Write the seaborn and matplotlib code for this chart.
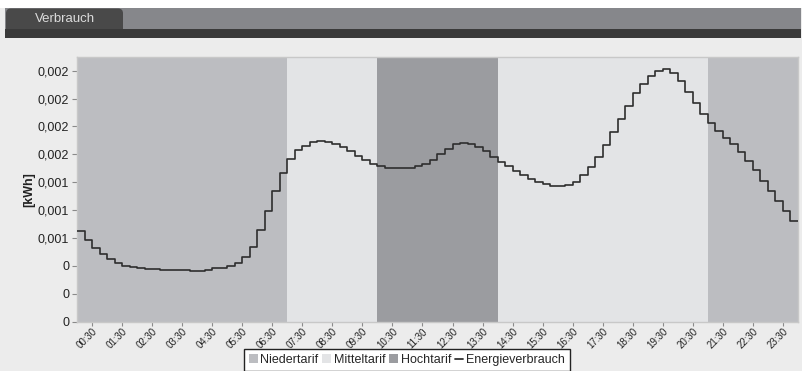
import numpy as np
import pandas as pd
import matplotlib
matplotlib.use('Agg')
import matplotlib.pyplot as plt
from matplotlib.patches import Rectangle, FancyBboxPatch, Patch
from matplotlib.lines import Line2D
from matplotlib.ticker import FuncFormatter
from decimal import Decimal, ROUND_HALF_EVEN
import seaborn as sns

# quarter-hour consumption in kWh (96 values, 00:00 .. 23:45)
verbrauch = [
    0.000813, 0.000731, 0.000658, 0.000604, 0.000560, 0.000522, 0.000499, 0.000488,
    0.000480, 0.000472, 0.000472, 0.000466, 0.000463, 0.000463, 0.000459, 0.000457,
    0.000457, 0.000463, 0.000477, 0.000481, 0.000497, 0.000523, 0.000577, 0.000667,
    0.000822, 0.000995, 0.001172, 0.001330, 0.001456, 0.001539, 0.001579, 0.001609,
    0.001617, 0.001609, 0.001591, 0.001563, 0.001530, 0.001488, 0.001448, 0.001418,
    0.001398, 0.001382, 0.001382, 0.001382, 0.001382, 0.001396, 0.001418, 0.001447,
    0.001501, 0.001545, 0.001590, 0.001606, 0.001595, 0.001569, 0.001527, 0.001479,
    0.001434, 0.001393, 0.001353, 0.001311, 0.001277, 0.001252, 0.001236, 0.001219,
    0.001218, 0.001225, 0.001255, 0.001311, 0.001384, 0.001472, 0.001581, 0.001700,
    0.001817, 0.001934, 0.002047, 0.002133, 0.002205, 0.002250, 0.002263, 0.002227,
    0.002159, 0.002059, 0.001963, 0.001865, 0.001784, 0.001711, 0.001651, 0.001590,
    0.001517, 0.001438, 0.001357, 0.001264, 0.001173, 0.001084, 0.000992, 0.000903,
]

# tariff periods (hours)
tarif_start = [0, 7, 10, 14, 21]
tarif_end = [7, 10, 14, 21, 24]
tarif_name = ['Niedertarif', 'Mitteltarif', 'Hochtarif', 'Mitteltarif', 'Niedertarif']
tarif_colors = {'Niedertarif': '#bcbdc1', 'Mitteltarif': '#e3e4e6', 'Hochtarif': '#9b9ca0'}

xtick_labels = [f'{h:02d}:30' for h in range(24)]
ytick_values = np.arange(0, 0.00226, 0.00025)

# step data: repeat the last value so the final quarter hour reaches 24:00
stunden = np.arange(len(verbrauch) + 1) * 0.25
df = pd.DataFrame({'stunde': stunden, 'kwh': verbrauch + [verbrauch[-1]]})

sns.set_theme(style='white')
plt.rcParams['font.family'] = ['Liberation Sans', 'DejaVu Sans']

W, H = 803, 371
fig = plt.figure(figsize=(W / 100, H / 100), dpi=100, facecolor='#ececec')

def px(x0, y0, x1, y1):
    # pixel box (top-left origin) -> figure fraction rectangle
    return (x0 / W, 1 - y1 / H), (x1 - x0) / W, (y1 - y0) / H

# header: white strip, gray bar, tab, dark band (band covers the tab's lower corners)
for box, col in [((0, 0, W, 7.5), '#ffffff'),
                 ((5, 7.5, W - 2, 28.5), '#86878b')]:
    xy, w, h = px(*box)
    fig.add_artist(Rectangle(xy, w, h, transform=fig.transFigure, color=col, lw=0))
xy, w, h = px(6, 8.5, 123, 36)
fig.add_artist(FancyBboxPatch(xy, w, h, boxstyle='round,pad=0,rounding_size=0.006',
                              transform=fig.transFigure, facecolor='#494949', lw=0,
                              mutation_aspect=W / H))
xy, w, h = px(5, 28.5, W - 2, 37.5)
fig.add_artist(Rectangle(xy, w, h, transform=fig.transFigure, color='#3a3a3a', lw=0))
fig.text(65 / W, 1 - 18.5 / H, 'Verbrauch', color='#dcdcdc', fontsize=9.5,
         ha='center', va='center')

ax = fig.add_axes([77 / W, 1 - 321.7 / H, (798 - 77) / W, (321.7 - 57.3) / H])

for s, e, n in zip(tarif_start, tarif_end, tarif_name):
    ax.axvspan(s, e, color=tarif_colors[n], lw=0, zorder=0)

sns.lineplot(data=df, x='stunde', y='kwh', drawstyle='steps-post', color='#2e2e2e',
             lw=1.2, ax=ax, zorder=3)

ax.set_xlim(0, 24)
ax.set_ylim(0, 0.00237)
ax.set_xticks(np.arange(24) + 0.5)
ax.set_xticklabels(xtick_labels, rotation=45, ha='right', rotation_mode='anchor',
                   fontsize=7, color='#222222')
ax.set_yticks(ytick_values)

def de_fmt(v, pos):
    d = Decimal(str(round(float(v), 8))).quantize(Decimal('0.001'), rounding=ROUND_HALF_EVEN)
    if d == 0:
        return '0'
    return format(d, 'f').replace('.', ',')

ax.yaxis.set_major_formatter(FuncFormatter(de_fmt))
ax.tick_params(axis='y', labelsize=9, labelcolor='#222222', length=3.5, width=0.8,
               color='#8a8a8a', direction='out', left=True, pad=2)
ax.tick_params(axis='x', length=3, width=0.8, color='#8a8a8a', direction='out',
               bottom=True, pad=0.5)
ax.set_xlabel('')
ax.set_ylabel('[kWh]', fontsize=9, fontweight='bold', color='#222222', labelpad=2)
for sp in ax.spines.values():
    sp.set_color('#c8c8c8')
    sp.set_linewidth(1)

handles = [Patch(facecolor=tarif_colors[n], edgecolor='none') for n in ['Niedertarif', 'Mitteltarif', 'Hochtarif']]
handles.append(Line2D([], [], color='#333333', lw=1.3))
labels = ['Niedertarif', 'Mitteltarif', 'Hochtarif', 'Energieverbrauch']
leg = fig.legend(handles, labels, loc='upper center', bbox_to_anchor=(407 / W, 1 - 349 / H),
                 ncol=4, fontsize=9, frameon=True, fancybox=False, framealpha=1,
                 edgecolor='#222222', handlelength=0.7, handleheight=0.7,
                 handletextpad=0.22, columnspacing=0.3, borderpad=0.4, borderaxespad=0)
leg.get_frame().set_linewidth(1)

fig.savefig('out.png', dpi=100, facecolor=fig.get_facecolor())
